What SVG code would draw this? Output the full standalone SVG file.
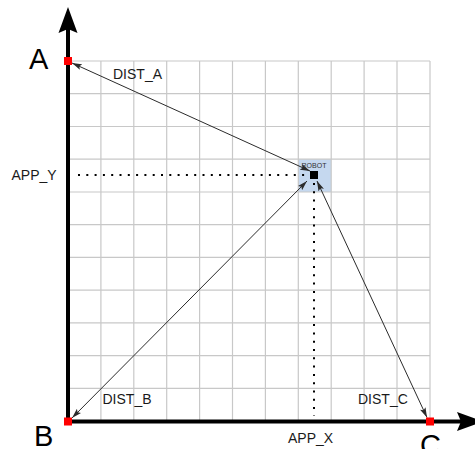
<svg xmlns="http://www.w3.org/2000/svg" width="475" height="449" viewBox="0 0 475 449">
<defs>
<style>
.grid line{stroke:#c8c8c8;stroke-width:1.2}
.lbl{font-family:"Liberation Sans",Arial,sans-serif;font-size:14px;fill:#1a1a1a}
.big{font-family:"Liberation Sans",Arial,sans-serif;font-size:29px;fill:#000}
.pt{fill:#ff0000}
.conn line{stroke:#2b2b2b;stroke-width:1;marker-start:url(#ah);marker-end:url(#ah)}
.dot{stroke:#000;stroke-width:2;stroke-dasharray:2 6.3;fill:none}
.axis{stroke:#000;stroke-width:4}
</style>
<marker id="ah" viewBox="0 0 10 6" refX="10" refY="3" markerWidth="10" markerHeight="6" markerUnits="userSpaceOnUse" orient="auto-start-reverse">
<path d="M0,0 L10,3 L0,6 L2,3 Z" fill="#2b2b2b"/>
</marker>
</defs>
<rect width="475" height="449" fill="#fff"/>
<rect x="298.3" y="159.2" width="32.9" height="32.8" fill="#c5d8ef"/>
<g class="grid">
<line x1="100.9" y1="61" x2="100.9" y2="421"/>
<line x1="133.8" y1="61" x2="133.8" y2="421"/>
<line x1="166.7" y1="61" x2="166.7" y2="421"/>
<line x1="199.6" y1="61" x2="199.6" y2="421"/>
<line x1="232.5" y1="61" x2="232.5" y2="421"/>
<line x1="265.4" y1="61" x2="265.4" y2="421"/>
<line x1="298.3" y1="61" x2="298.3" y2="421"/>
<line x1="331.2" y1="61" x2="331.2" y2="421"/>
<line x1="364.1" y1="61" x2="364.1" y2="421"/>
<line x1="397" y1="61" x2="397" y2="421"/>
<line x1="430" y1="61" x2="430" y2="421"/>
<line x1="68" y1="61" x2="430" y2="61"/>
<line x1="68" y1="93.7" x2="430" y2="93.7"/>
<line x1="68" y1="126.5" x2="430" y2="126.5"/>
<line x1="68" y1="159.2" x2="430" y2="159.2"/>
<line x1="68" y1="192" x2="430" y2="192"/>
<line x1="68" y1="224.6" x2="430" y2="224.6"/>
<line x1="68" y1="257.4" x2="430" y2="257.4"/>
<line x1="68" y1="290.1" x2="430" y2="290.1"/>
<line x1="68" y1="322.8" x2="430" y2="322.8"/>
<line x1="68" y1="355.6" x2="430" y2="355.6"/>
<line x1="68" y1="388.3" x2="430" y2="388.3"/>
</g>
<g id="axes">
<line class="axis" x1="68" y1="423" x2="68" y2="28"/>
<path d="M68,7 L77.5,33 L68,29 L58.5,33 Z" fill="#000"/>
<line class="axis" x1="66" y1="421.5" x2="462" y2="421.5"/>
<path d="M483,421.5 L457,412 L461,421.5 L457,431 Z" fill="#000"/>
</g>
<g id="guides">
<line class="dot" x1="78" y1="175" x2="307" y2="175"/>
<line class="dot" x1="314" y1="183" x2="314" y2="416"/>
<text class="lbl" x="11.5" y="180">APP_Y</text>
<text class="lbl" x="288" y="443">APP_X</text>
</g>
<g class="conn" id="connectors">
<line x1="310" y1="171" x2="72" y2="63"/>
<line x1="307" y1="181" x2="72" y2="418"/>
<line x1="317" y1="181" x2="427" y2="417.5"/>
<text class="lbl" x="113" y="79">DIST_A</text>
<text class="lbl" x="102.5" y="404">DIST_B</text>
<text class="lbl" x="358" y="404">DIST_C</text>
</g>
<g id="A">
<rect class="pt" x="64" y="57" width="8" height="8"/>
<text class="big" x="29" y="69">A</text>
</g>
<g id="B">
<rect class="pt" x="64" y="417.5" width="8" height="8"/>
<text class="big" x="34" y="446">B</text>
</g>
<g id="C">
<rect class="pt" x="426" y="417.5" width="8" height="8"/>
<text class="big" x="420" y="455">C</text>
</g>
<g id="robot">
<rect x="310" y="171" width="8" height="8" fill="#000"/>
<text x="314" y="167.5" text-anchor="middle" font-family="Liberation Sans, Arial, sans-serif" font-size="7" fill="#333">ROBOT</text>
</g>
</svg>
